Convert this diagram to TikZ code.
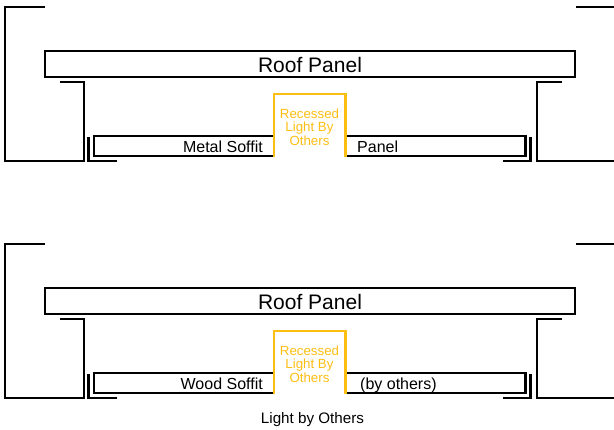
\documentclass[tikz,border=0pt]{standalone}
\usepackage{fontspec}
\setmainfont{Liberation Sans}
\definecolor{lightyellow}{HTML}{FDBE14}

\begin{document}
\begin{tikzpicture}[x=1pt,y=-1pt]
    \tikzstyle{roofpanel}=[rectangle,draw,line width=2.8pt,inner sep=0pt,minimum width=530pt,minimum height=26pt,text height=16.5pt,text depth=0pt,font=\fontsize{21}{21}\selectfont]
    \tikzstyle{soffitlabel}=[inner sep=0pt,font=\fontsize{16}{16}\selectfont]
    \tikzstyle{lightlabel}=[inner sep=0pt,align=center,text=lightyellow,font=\fontsize{13.3}{13.4}\selectfont]
    \tikzstyle{wall}=[line width=2pt,miter limit=10]
    \tikzstyle{soffit}=[line width=2.8pt]
    \tikzstyle{trim}=[line width=2.8pt]
    \tikzstyle{light}=[line width=2.4pt,lightyellow]
    \useasboundingbox (0,0) rectangle (614,430);
    \foreach \yoff/\lefttext/\righttext/\rightx in {0/Metal Soffit/Panel/357, 237/Wood Soffit/(by others)/360} {
      \begin{scope}[yshift=-\yoff pt]
        % walls
        \draw[wall] (45,7) -- (5,7) -- (5,161) -- (84,161) -- (84,82) -- (60,82);
        \draw[wall] (614,7) -- (575.5,7);
        \draw[wall] (614,161) -- (536.5,161) -- (536.5,82) -- (562,82);
        \node[roofpanel] (roof\yoff) at (310,64) {Roof Panel};
        % soffit either side of the light
        \draw[soffit] (274,136) -- (94,136) -- (94,156) -- (274,156);
        \draw[soffit] (346,136) -- (525.5,136) -- (525.5,156) -- (346,156);
        \draw[trim] (88.5,137) -- (88.5,161) -- (116.5,161);
        \draw[trim] (530.5,137) -- (530.5,161) -- (503,161);
        \draw[light] (274,157) -- (274,94) -- (345.5,94) -- (345.5,157);
        \node[lightlabel] (light\yoff) at (309.5,127) {Recessed\\Light By\\Others};
        \node[soffitlabel,anchor=base east] (left\yoff) at (263,152.3) {\lefttext};
        \node[soffitlabel,anchor=base west] (right\yoff) at (\rightx,152.3) {\righttext};
      \end{scope}
    }
    \node[inner sep=0pt,anchor=base,font=\fontsize{15.2}{15.2}\selectfont] (caption) at (312.5,424) {Light by Others};
\end{tikzpicture}
\end{document}
